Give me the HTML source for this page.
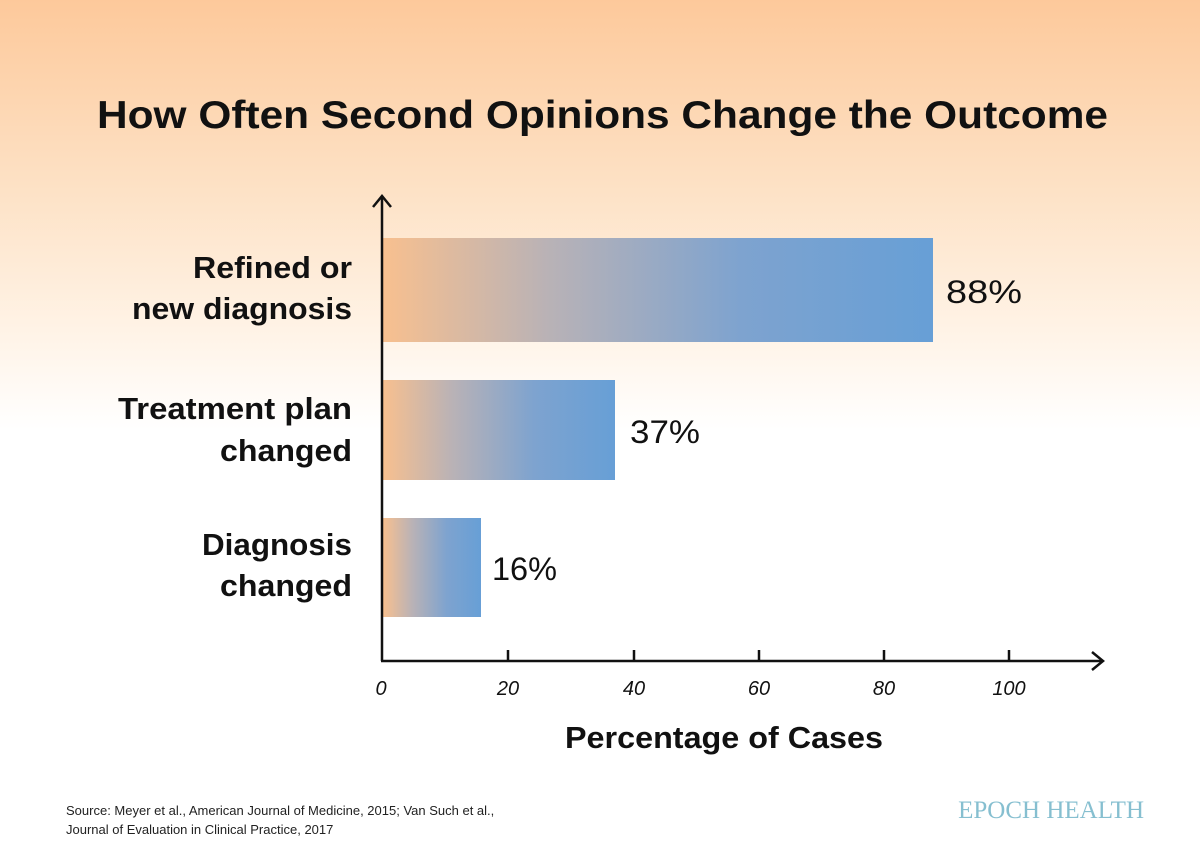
<!DOCTYPE html>
<html><head><style>
html,body{margin:0;padding:0}
body{width:1200px;height:852px;overflow:hidden;background:linear-gradient(to bottom,#fdc99b 0px,#fde3c8 200px,#fff3e6 330px,#ffffff 430px,#ffffff 852px);font-family:"Liberation Sans",sans-serif}
</style></head><body>
<svg width="1200" height="852" xmlns="http://www.w3.org/2000/svg" style="position:absolute;left:0;top:0">
<defs>
<linearGradient id="g1" x1="0" x2="1" y1="0" y2="0">
<stop offset="0" stop-color="#f8c08f"/><stop offset="0.3" stop-color="#b9b2b6"/><stop offset="0.65" stop-color="#7ea3cf"/><stop offset="1" stop-color="#679fd6"/></linearGradient>
</defs>
<text x="97" y="128" font-size="39" font-weight="bold" fill="#111" textLength="1011" lengthAdjust="spacingAndGlyphs">How Often Second Opinions Change the Outcome</text>
<rect x="383" y="238" width="550" height="104" fill="url(#g1)"/>
<rect x="383" y="380" width="232" height="100" fill="url(#g1)"/>
<rect x="383" y="518" width="98" height="99" fill="url(#g1)"/>
<g stroke="#111" stroke-width="2.5" fill="none">
<line x1="382" y1="197" x2="382" y2="661"/>
<polyline points="373,207 382,196 391,207"/>
<line x1="381" y1="661" x2="1103" y2="661"/>
<polyline points="1092,652 1103,661 1092,670"/>
<line x1="508" y1="650" x2="508" y2="661"/><line x1="634" y1="650" x2="634" y2="661"/><line x1="759" y1="650" x2="759" y2="661"/><line x1="884" y1="650" x2="884" y2="661"/><line x1="1009" y1="650" x2="1009" y2="661"/>
</g>
<g font-size="20" font-style="italic" fill="#111" text-anchor="middle">
<text x="381" y="695">0</text><text x="508" y="695">20</text><text x="634" y="695">40</text><text x="759" y="695">60</text><text x="884" y="695">80</text><text x="1009" y="695">100</text>
</g>
<text x="565" y="748" font-size="31" font-weight="bold" fill="#111" textLength="318" lengthAdjust="spacingAndGlyphs">Percentage of Cases</text>
<g font-size="31" font-weight="bold" fill="#111">
<text x="193" y="278" textLength="159" lengthAdjust="spacingAndGlyphs">Refined or</text>
<text x="132" y="319" textLength="220" lengthAdjust="spacingAndGlyphs">new diagnosis</text>
<text x="118" y="419" textLength="234" lengthAdjust="spacingAndGlyphs">Treatment plan</text>
<text x="220" y="461" textLength="132" lengthAdjust="spacingAndGlyphs">changed</text>
<text x="202" y="555" textLength="150" lengthAdjust="spacingAndGlyphs">Diagnosis</text>
<text x="220" y="596" textLength="132" lengthAdjust="spacingAndGlyphs">changed</text>
</g>
<g font-size="32" fill="#111">
<text x="946" y="303" textLength="76" lengthAdjust="spacingAndGlyphs">88%</text>
<text x="630" y="443" textLength="70" lengthAdjust="spacingAndGlyphs">37%</text>
<text x="492" y="580" textLength="65" lengthAdjust="spacingAndGlyphs">16%</text>
</g>
<text x="66" y="815" font-size="13" fill="#222">Source: Meyer et al., American Journal of Medicine, 2015; Van Such et al.,</text>
<text x="66" y="834" font-size="13" fill="#222">Journal of Evaluation in Clinical Practice, 2017</text>
<text x="1144" y="818" text-anchor="end" font-size="25" font-family="'Liberation Serif',serif" fill="#86bfd0">EPOCH HEALTH</text>
</svg>
</body></html>
